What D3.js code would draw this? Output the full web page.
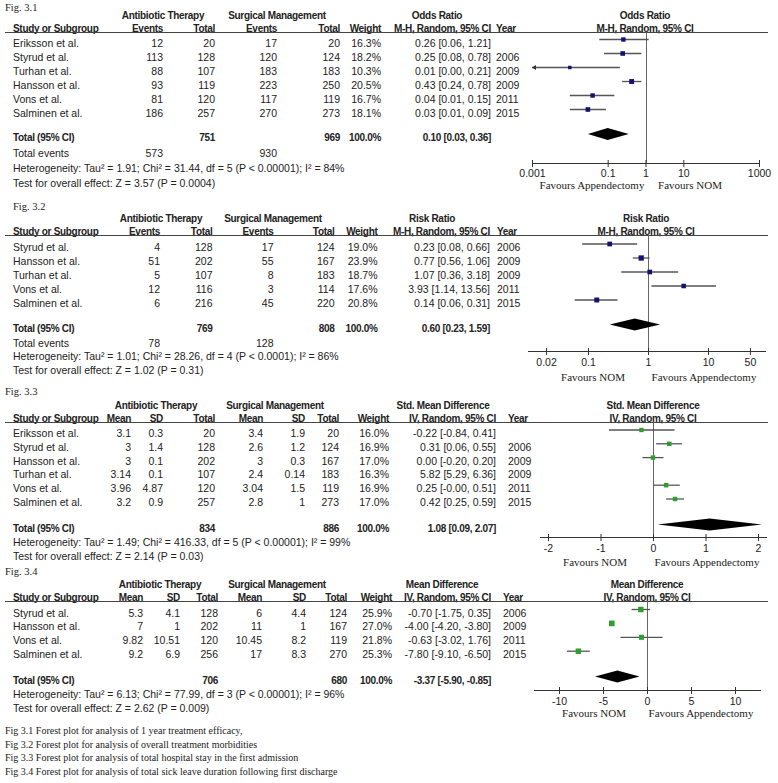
<!DOCTYPE html>
<html>
<head>
<meta charset="utf-8">
<script src="https://cdn.jsdelivr.net/npm/d3@7"></script>
<style>
body { margin: 0; background: #fff; }
text { font-family: "Liberation Sans", Arial, sans-serif; fill: #222; font-size: 10.5px; }
text.b { font-weight: bold; font-size: 10px; letter-spacing: -0.3px; }
text.serif { font-family: "Liberation Serif", "Times New Roman", serif; }
</style>
</head>
<body>
<script>
// ---- Fig 3.1 : 1 year treatment efficacy (odds ratio) ----
var fig1Studies = ["Eriksson et al.", "Styrud et al.", "Turhan et al.", "Hansson et al.", "Vons et al.", "Salminen et al."];
var fig1AtEvents = [12, 113, 88, 93, 81, 186];
var fig1AtTotal = [20, 128, 107, 119, 120, 257];
var fig1SmEvents = [17, 120, 183, 223, 117, 270];
var fig1SmTotal = [20, 124, 183, 250, 119, 273];
var fig1Weight = [16.3, 18.2, 10.3, 20.5, 16.7, 18.1];
var fig1Est = [0.26, 0.25, 0.01, 0.43, 0.04, 0.03];
var fig1Lo = [0.06, 0.08, 0.00, 0.24, 0.01, 0.01];
var fig1Hi = [1.21, 0.78, 0.21, 0.78, 0.15, 0.09];
var fig1Year = ["", "2006", "2009", "2009", "2011", "2015"];
var fig1Totals = [751, 969];
var fig1TotalEvents = [573, 930];
var fig1Pooled = [0.10, 0.03, 0.36];
var fig1Domain = [0.001, 1000];
var fig1Ticks = [0.001, 0.1, 1, 10, 1000];
var fig1Favours = ["Favours Appendectomy", "Favours NOM"];
var fig1Stats = ["Heterogeneity: Tau\u00b2 = 1.91; Chi\u00b2 = 31.44, df = 5 (P < 0.00001); I\u00b2 = 84%",
                 "Test for overall effect: Z = 3.57 (P = 0.0004)"];

// ---- Fig 3.2 : overall treatment morbidities (risk ratio) ----
var fig2Studies = ["Styrud et al.", "Hansson et al.", "Turhan et al.", "Vons et al.", "Salminen et al."];
var fig2AtEvents = [4, 51, 5, 12, 6];
var fig2AtTotal = [128, 202, 107, 116, 216];
var fig2SmEvents = [17, 55, 8, 3, 45];
var fig2SmTotal = [124, 167, 183, 114, 220];
var fig2Weight = [19.0, 23.9, 18.7, 17.6, 20.8];
var fig2Est = [0.23, 0.77, 1.07, 3.93, 0.14];
var fig2Lo = [0.08, 0.56, 0.36, 1.14, 0.06];
var fig2Hi = [0.66, 1.06, 3.18, 13.56, 0.31];
var fig2Year = ["2006", "2009", "2009", "2011", "2015"];
var fig2Totals = [769, 808];
var fig2TotalEvents = [78, 128];
var fig2Pooled = [0.60, 0.23, 1.59];
var fig2Domain = [0.01, 100];
var fig2Ticks = [0.02, 0.1, 1, 10, 50];
var fig2Favours = ["Favours NOM", "Favours Appendectomy"];
var fig2Stats = ["Heterogeneity: Tau\u00b2 = 1.01; Chi\u00b2 = 28.26, df = 4 (P < 0.0001); I\u00b2 = 86%",
                 "Test for overall effect: Z = 1.02 (P = 0.31)"];

// ---- Fig 3.3 : hospital stay (std. mean difference) ----
var fig3Studies = ["Eriksson et al.", "Styrud et al.", "Hansson et al.", "Turhan et al.", "Vons et al.", "Salminen et al."];
var fig3AtMean = [3.1, 3, 3, 3.14, 3.96, 3.2];
var fig3AtSd = [0.3, 1.4, 0.1, 0.1, 4.87, 0.9];
var fig3AtTotal = [20, 128, 202, 107, 120, 257];
var fig3SmMean = [3.4, 2.6, 3, 2.4, 3.04, 2.8];
var fig3SmSd = [1.9, 1.2, 0.3, 0.14, 1.5, 1];
var fig3SmTotal = [20, 124, 167, 183, 119, 273];
var fig3Weight = [16.0, 16.9, 17.0, 16.3, 16.9, 17.0];
var fig3Est = [-0.22, 0.31, 0.00, 5.82, 0.25, 0.42];
var fig3Lo = [-0.84, 0.06, -0.20, 5.29, -0, 0.25];
var fig3Hi = [0.41, 0.55, 0.20, 6.36, 0.51, 0.59];
var fig3Year = ["", "2006", "2009", "2009", "2011", "2015"];
var fig3Totals = [834, 886];
var fig3Pooled = [1.08, 0.09, 2.07];
var fig3Domain = [-2, 2];
var fig3Ticks = [-2, -1, 0, 1, 2];
var fig3Favours = ["Favours NOM", "Favours Appendectomy"];
var fig3Stats = ["Heterogeneity: Tau\u00b2 = 1.49; Chi\u00b2 = 416.33, df = 5 (P < 0.00001); I\u00b2 = 99%",
                 "Test for overall effect: Z = 2.14 (P = 0.03)"];

// ---- Fig 3.4 : sick leave duration (mean difference) ----
var fig4Studies = ["Styrud et al.", "Hansson et al.", "Vons et al.", "Salminen et al."];
var fig4AtMean = [5.3, 7, 9.82, 9.2];
var fig4AtSd = [4.1, 1, 10.51, 6.9];
var fig4AtTotal = [128, 202, 120, 256];
var fig4SmMean = [6, 11, 10.45, 17];
var fig4SmSd = [4.4, 1, 8.2, 8.3];
var fig4SmTotal = [124, 167, 119, 270];
var fig4Weight = [25.9, 27.0, 21.8, 25.3];
var fig4Est = [-0.70, -4.00, -0.63, -7.80];
var fig4Lo = [-1.75, -4.20, -3.02, -9.10];
var fig4Hi = [0.35, -3.80, 1.76, -6.50];
var fig4Year = ["2006", "2009", "2011", "2015"];
var fig4Totals = [706, 680];
var fig4Pooled = [-3.37, -5.90, -0.85];
var fig4Domain = [-10, 10];
var fig4Ticks = [-10, -5, 0, 5, 10];
var fig4Favours = ["Favours NOM", "Favours Appendectomy"];
var fig4Stats = ["Heterogeneity: Tau\u00b2 = 6.13; Chi\u00b2 = 77.99, df = 3 (P < 0.00001); I\u00b2 = 96%",
                 "Test for overall effect: Z = 2.62 (P = 0.009)"];

var captions = ["Fig 3.1 Forest plot for analysis of 1 year treatment efficacy,",
                "Fig 3.2 Forest plot for analysis of overall treatment morbidities",
                "Fig 3.3 Forest plot for analysis of total hospital stay in the first admission",
                "Fig 3.4 Forest plot for analysis of total sick leave duration following first discharge"];

var binHeaders = ["Events", "Total", "Events", "Total"];
var contHeaders = ["Mean", "SD", "Total", "Mean", "SD", "Total"];

var figs = [
  { label: "Fig. 3.1", kind: "bin", effect: ["Odds Ratio", "M-H, Random, 95% CI"],
    studies: fig1Studies, cols: [fig1AtEvents, fig1AtTotal, fig1SmEvents, fig1SmTotal],
    weight: fig1Weight, est: fig1Est, lo: fig1Lo, hi: fig1Hi, year: fig1Year,
    totals: fig1Totals, totalEvents: fig1TotalEvents, pooled: fig1Pooled,
    log: true, domain: fig1Domain, ticks: fig1Ticks, favours: fig1Favours, stats: fig1Stats },
  { label: "Fig. 3.2", kind: "bin", effect: ["Risk Ratio", "M-H, Random, 95% CI"],
    studies: fig2Studies, cols: [fig2AtEvents, fig2AtTotal, fig2SmEvents, fig2SmTotal],
    weight: fig2Weight, est: fig2Est, lo: fig2Lo, hi: fig2Hi, year: fig2Year,
    totals: fig2Totals, totalEvents: fig2TotalEvents, pooled: fig2Pooled,
    log: true, domain: fig2Domain, ticks: fig2Ticks, favours: fig2Favours, stats: fig2Stats },
  { label: "Fig. 3.3", kind: "cont", effect: ["Std. Mean Difference", "IV, Random, 95% CI"],
    studies: fig3Studies, cols: [fig3AtMean, fig3AtSd, fig3AtTotal, fig3SmMean, fig3SmSd, fig3SmTotal],
    weight: fig3Weight, est: fig3Est, lo: fig3Lo, hi: fig3Hi, year: fig3Year,
    totals: fig3Totals, pooled: fig3Pooled,
    log: false, domain: fig3Domain, ticks: fig3Ticks, favours: fig3Favours, stats: fig3Stats },
  { label: "Fig. 3.4", kind: "cont", effect: ["Mean Difference", "IV, Random, 95% CI"],
    studies: fig4Studies, cols: [fig4AtMean, fig4AtSd, fig4AtTotal, fig4SmMean, fig4SmSd, fig4SmTotal],
    weight: fig4Weight, est: fig4Est, lo: fig4Lo, hi: fig4Hi, year: fig4Year,
    totals: fig4Totals, pooled: fig4Pooled,
    log: false, domain: fig4Domain, ticks: fig4Ticks, favours: fig4Favours, stats: fig4Stats }
];

// layout of each panel (pixel positions)
var layouts = [
  { labelX: 5, labelY: 11, lineY: 32, row0: 46.5, step: 14, totalY: 141, extraY: [157, 172, 187],
    cols: [163, 215, 277, 340], weightX: 381, groups: [163, 277], effRight: 491, effHead: 437, yearX: 496,
    range: [532, 759], axisLine: [532, 759], axisY: 163, tickPad: 2.5, plotHead: 645, favY: 189, fav: [592, 690] },
  { labelX: 13, labelY: 210, lineY: 235, row0: 251, step: 14, totalY: 331.5, extraY: [346.5, 360, 373.5],
    cols: [160, 212.5, 273.5, 334.5], weightX: 377.5, groups: [161, 273], effRight: 490, effHead: 432, yearX: 497,
    range: [528, 768], axisLine: [528, 766], axisY: 351, tickPad: 3.5, plotHead: 646, favY: 381, fav: [593, 704] },
  { labelX: 5, labelY: 395, lineY: 422, row0: 437, step: 13.8, totalY: 531.5, extraY: [546, 560],
    cols: [131, 163, 215, 263, 305, 339], weightX: 389, groups: [156, 275], effRight: 496, effHead: 443, yearX: 508,
    range: [548, 758], axisLine: [540, 767], axisY: 537, tickPad: 3.5, plotHead: 653, favY: 566, fav: [595, 707] },
  { labelX: 5, labelY: 575, lineY: 601, row0: 616.5, step: 13.9, totalY: 683.5, extraY: [697.5, 711.5],
    cols: [143, 180, 218, 262, 306, 347], weightX: 392, groups: [160, 277], effRight: 491, effHead: 442, yearX: 503,
    range: [559, 735], axisLine: [534, 761], axisY: 690, tickPad: 3.5, plotHead: 647, favY: 717, fav: [594, 701] }
];

var w = 778, h = 783;
var svg = d3.select("body").append("svg")
    .attr("width", w)
    .attr("height", h);

function f2(v) {
    return (v < 0 || Object.is(v, -0) ? "-" : "") + Math.abs(v).toFixed(2);
}
function ciText(e, l, u) {
    return f2(e) + " [" + f2(l) + ", " + f2(u) + "]";
}
function txt(g, x, y, s, anchor, cls) {
    return g.append("text")
        .attr("x", x).attr("y", y)
        .attr("text-anchor", anchor || "start")
        .attr("class", cls || null)
        .text(s);
}

function drawFigure(f, L) {
    var g = svg.append("g");
    var markColor = f.kind == "bin" ? "#12126e" : "#2e9e2e";
    var x = (f.log ? d3.scaleLog() : d3.scaleLinear())
        .domain(f.domain)
        .range(L.range);

    txt(g, L.labelX, L.labelY, f.label, "start", "serif").style("font-size", "10.5px");

    // headers
    var h1 = L.lineY - 13.5, h2 = L.lineY - 0.5;
    txt(g, L.groups[0], h1, "Antibiotic Therapy", "middle", "b");
    txt(g, L.groups[1], h1, "Surgical Management", "middle", "b");
    txt(g, L.effHead, h1, f.effect[0], "middle", "b");
    txt(g, L.plotHead, h1, f.effect[0], "middle", "b");
    txt(g, 13, h2, "Study or Subgroup", "start", "b");
    var heads = f.kind == "bin" ? binHeaders : contHeaders;
    heads.forEach(function (s, i) { txt(g, L.cols[i], h2, s, "end", "b"); });
    txt(g, L.weightX, h2, "Weight", "end", "b");
    txt(g, L.effRight, h2, f.effect[1], "end", "b");
    txt(g, L.yearX, h2, "Year", "start", "b");
    txt(g, L.plotHead, h2, f.effect[1], "middle", "b");

    g.append("line")
        .attr("x1", 5).attr("x2", 768)
        .attr("y1", L.lineY + 0.5).attr("y2", L.lineY + 0.5)
        .attr("stroke", "#444").attr("stroke-width", 1);

    // zero / null line
    var x0 = Math.round(x(f.log ? 1 : 0)) + 0.5;
    g.append("line")
        .attr("x1", x0).attr("x2", x0)
        .attr("y1", L.lineY).attr("y2", L.axisY)
        .attr("stroke", "#666").attr("stroke-width", 1);

    // study rows
    f.studies.forEach(function (s, i) {
        var y = L.row0 + i * L.step;
        txt(g, 13, y, s);
        f.cols.forEach(function (col, j) { txt(g, L.cols[j], y, String(col[i]), "end"); });
        txt(g, L.weightX, y, f.weight[i].toFixed(1) + "%", "end");
        txt(g, L.effRight, y, ciText(f.est[i], f.lo[i], f.hi[i]), "end");
        txt(g, L.yearX, y, f.year[i]);

        var e = f.est[i];
        if (e < f.domain[0] || e > f.domain[1]) return;
        var my = y - 7;
        var lowOut = f.lo[i] <= f.domain[0], highOut = f.hi[i] >= f.domain[1];
        var xl = x(lowOut ? f.domain[0] : f.lo[i]);
        var xh = x(highOut ? f.domain[1] : f.hi[i]);
        g.append("line")
            .attr("x1", xl).attr("x2", xh)
            .attr("y1", my).attr("y2", my)
            .attr("stroke", "#555").attr("stroke-width", 1.3);
        if (lowOut) {
            g.append("path")
                .attr("d", "M" + xl + "," + my + "l4,-2.5v5z")
                .attr("fill", "#333");
        }
        if (highOut) {
            g.append("path")
                .attr("d", "M" + xh + "," + my + "l-4,-2.5v5z")
                .attr("fill", "#333");
        }
        var side = Math.sqrt(f.weight[i]) * 1.08;
        g.append("rect")
            .attr("x", x(e) - side / 2).attr("y", my - side / 2)
            .attr("width", side).attr("height", side)
            .attr("fill", markColor);
    });

    // total row
    var ty = L.totalY;
    txt(g, 13, ty, "Total (95% CI)", "start", "b");
    var tc = f.kind == "bin" ? [1, 3] : [2, 5];
    txt(g, L.cols[tc[0]], ty, String(f.totals[0]), "end", "b");
    txt(g, L.cols[tc[1]], ty, String(f.totals[1]), "end", "b");
    txt(g, L.weightX, ty, "100.0%", "end", "b");
    txt(g, L.effRight, ty, ciText(f.pooled[0], f.pooled[1], f.pooled[2]), "end", "b");

    var dy = ty - 7, dh = 6;
    g.append("path")
        .attr("d", "M" + x(f.pooled[1]) + "," + dy +
                   "L" + x(f.pooled[0]) + "," + (dy - dh) +
                   "L" + x(f.pooled[2]) + "," + dy +
                   "L" + x(f.pooled[0]) + "," + (dy + dh) + "Z")
        .attr("fill", "#000");

    var k = 0;
    if (f.kind == "bin") {
        txt(g, 13, L.extraY[0], "Total events");
        txt(g, L.cols[0], L.extraY[0], String(f.totalEvents[0]), "end");
        txt(g, L.cols[2], L.extraY[0], String(f.totalEvents[1]), "end");
        k = 1;
    }
    f.stats.forEach(function (s, i) { txt(g, 13, L.extraY[k + i], s); });

    // axis
    var axis = d3.axisBottom(x)
        .tickValues(f.ticks)
        .tickFormat(String)
        .tickSize(4)
        .tickSizeOuter(0)
        .tickPadding(L.tickPad);
    var ag = g.append("g")
        .attr("transform", "translate(0," + L.axisY + ")")
        .call(axis);
    ag.select(".domain").remove();
    ag.attr("font-family", null).attr("font-size", null);
    ag.selectAll(".tick line").attr("y1", -3).attr("stroke", "#333");
    ag.selectAll(".tick text").attr("fill", "#222");
    ag.append("line")
        .attr("x1", L.axisLine[0]).attr("x2", L.axisLine[1])
        .attr("y1", 0.5).attr("y2", 0.5)
        .attr("stroke", "#333");

    txt(g, L.fav[0], L.favY, f.favours[0], "middle", "serif").style("font-size", "11px");
    txt(g, L.fav[1], L.favY, f.favours[1], "middle", "serif").style("font-size", "11px");
}

figs.forEach(function (f, i) { drawFigure(f, layouts[i]); });

svg.selectAll("text.caption")
    .data(captions)
    .enter()
    .append("text")
    .attr("class", "serif caption")
    .attr("x", 5)
    .attr("y", function (d, i) { return 734 + i * 13.7; })
    .style("font-size", "10px")
    .text(function (d) { return d; });
</script>
</body>
</html>
